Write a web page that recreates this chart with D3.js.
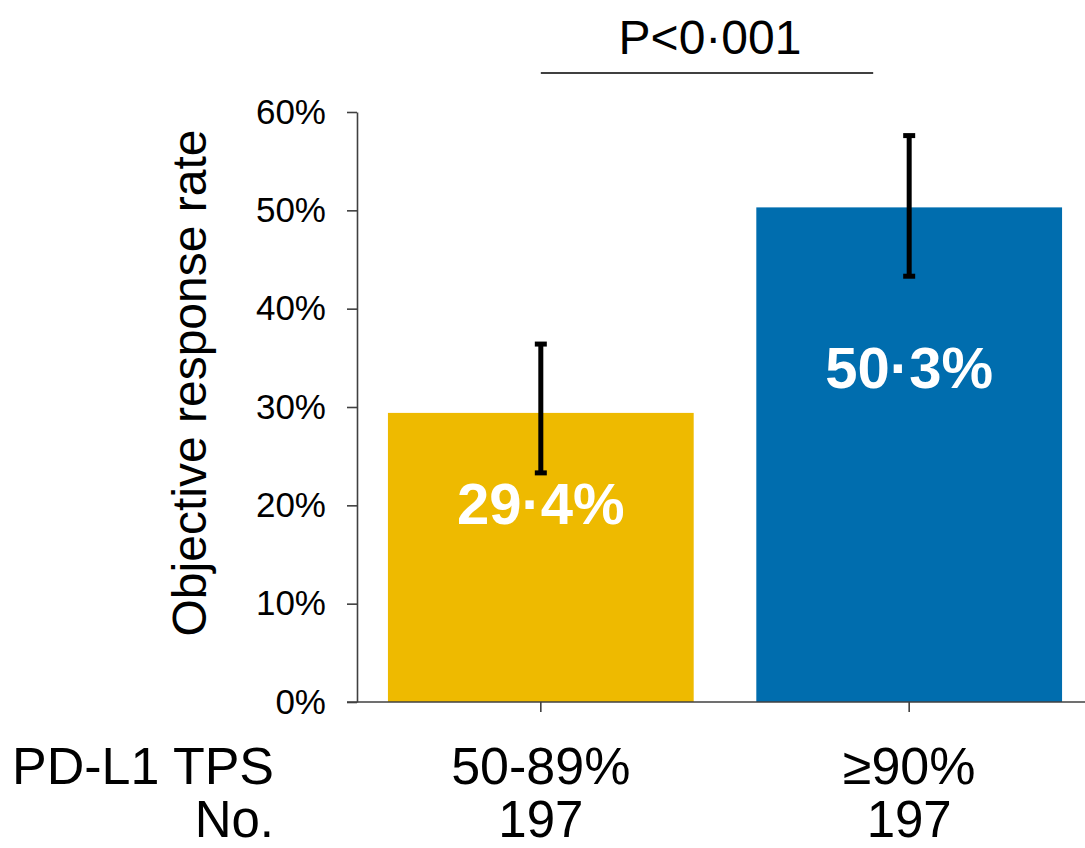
<!DOCTYPE html>
<html>
<head>
<meta charset="utf-8">
<script src="https://cdn.jsdelivr.net/npm/d3@7"></script>
<style>
  html, body { margin: 0; padding: 0; background: #fff; }
  svg { display: block; font-family: "Liberation Sans", Arial, sans-serif; }
</style>
</head>
<body>
<svg id="chart" width="1085" height="848"></svg>
<script>
const categories = ["50-89%", "≥90%"];
const counts = ["197", "197"];
const values = [29.4, 50.3];
const ciLow = [23.3, 43.3];
const ciHigh = [36.4, 57.6];
const valueLabels = ["29·4%", "50·3%"];
const colors = ["#EEBA00", "#006DAE"];
const yTicks = [0, 10, 20, 30, 40, 50, 60];
const pLabel = "P<0·001";

const svg = d3.select("#chart");
const x0 = 357, x1 = 1093, yBase = 702, yTop = 112;

const x = d3.scaleBand().domain(categories).range([x0, x1])
  .paddingInner(0.17).paddingOuter(0.084);
const y = d3.scaleLinear().domain([0, 60]).range([yBase, yTop]);

// bars
svg.selectAll("rect.bar").data(categories).enter().append("rect")
  .attr("x", d => x(d)).attr("width", x.bandwidth())
  .attr("y", (d, i) => y(values[i]))
  .attr("height", (d, i) => y(0) - y(values[i]))
  .attr("fill", (d, i) => colors[i]);

// y axis
const yAxis = d3.axisLeft(y).tickValues(yTicks).tickFormat(d => d + "%").tickSize(10).tickSizeOuter(0);
const gy = svg.append("g").attr("transform", `translate(${x0},0)`).call(yAxis);
gy.select(".domain").attr("stroke", "#404040").attr("stroke-width", 1.6);
gy.selectAll(".tick line").attr("stroke", "#404040").attr("stroke-width", 1.6);
gy.selectAll(".tick text").attr("font-size", 35).attr("fill", "#000").attr("x", -31)
  .attr("font-family", "Liberation Sans, Arial, sans-serif");

// x axis baseline
const xAxis = d3.axisBottom(x).tickSize(10).tickSizeOuter(0).tickFormat("");
const gx = svg.append("g").attr("transform", `translate(0,${yBase})`).call(xAxis);
gx.select(".domain").attr("d", `M${x0 - 10},0H1085`).attr("stroke", "#404040").attr("stroke-width", 1.6);
gx.selectAll(".tick line").attr("stroke", "#404040").attr("stroke-width", 1.6);

// error bars
const eb = svg.append("g").attr("stroke", "#000").attr("stroke-width", 5);
categories.forEach((c, i) => {
  const cx = x(c) + x.bandwidth() / 2;
  eb.append("line").attr("x1", cx).attr("x2", cx).attr("y1", y(ciLow[i])).attr("y2", y(ciHigh[i]));
  eb.append("line").attr("x1", cx - 6).attr("x2", cx + 6).attr("y1", y(ciLow[i])).attr("y2", y(ciLow[i]));
  eb.append("line").attr("x1", cx - 6).attr("x2", cx + 6).attr("y1", y(ciHigh[i])).attr("y2", y(ciHigh[i]));
});

// value labels
svg.selectAll("text.val").data(categories).enter().append("text")
  .attr("x", d => x(d) + x.bandwidth() / 2)
  .attr("y", (d, i) => i === 0 ? 524 : 388)
  .attr("text-anchor", "middle").attr("font-size", 58).attr("font-weight", "bold")
  .attr("fill", "#fff").text((d, i) => valueLabels[i]);

// y title
svg.append("text").attr("transform", `translate(206,383) rotate(-90)`)
  .attr("text-anchor", "middle").attr("font-size", 48).attr("fill", "#000")
  .text("Objective response rate");

// category labels
svg.selectAll("text.cat").data(categories).enter().append("text")
  .attr("x", d => x(d) + x.bandwidth() / 2).attr("y", 784)
  .attr("text-anchor", "middle").attr("font-size", 52).attr("fill", "#000").text(d => d);
svg.selectAll("text.cnt").data(categories).enter().append("text")
  .attr("x", d => x(d) + x.bandwidth() / 2).attr("y", 837)
  .attr("text-anchor", "middle").attr("font-size", 51).attr("fill", "#000").text((d, i) => counts[i]);
svg.append("text").attr("x", 12).attr("y", 784).attr("font-size", 52).attr("fill", "#000").text("PD-L1 TPS");
svg.append("text").attr("x", 274).attr("y", 837).attr("text-anchor", "end").attr("font-size", 51).attr("fill", "#000").text("No.");

// significance bar
const c1 = x(categories[0]) + x.bandwidth() / 2, c2 = x(categories[1]) + x.bandwidth() / 2;
svg.append("line").attr("x1", c1).attr("x2", c2 - 36).attr("y1", 73).attr("y2", 73)
  .attr("stroke", "#000").attr("stroke-width", 1.5);
svg.append("text").attr("x", (c1 + c2 - 36) / 2 + 3).attr("y", 54).attr("text-anchor", "middle")
  .attr("font-size", 48).attr("fill", "#000").text(pLabel);
</script>
</body>
</html>
